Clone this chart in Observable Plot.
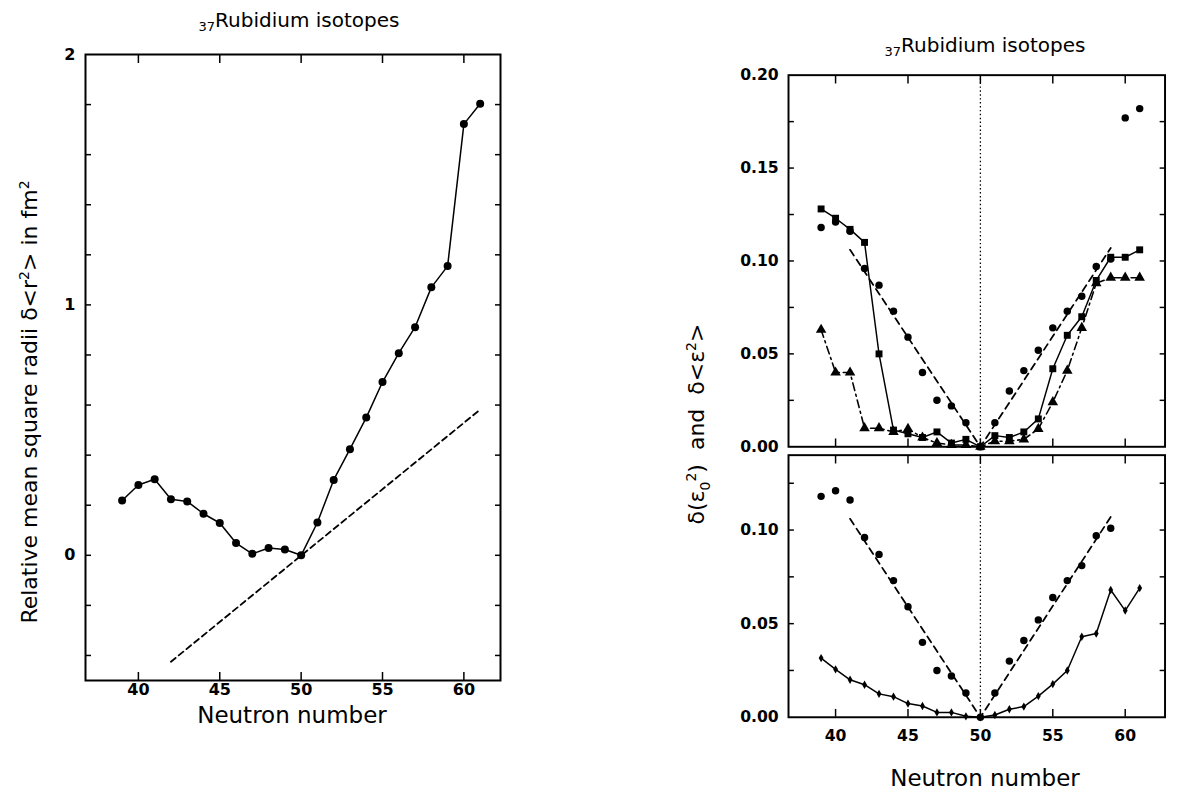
<!DOCTYPE html>
<html><head><meta charset="utf-8">
<script src="https://cdn.jsdelivr.net/npm/d3@7"></script>
<script src="https://cdn.jsdelivr.net/npm/@observablehq/plot@0.6"></script>
<style>
body{margin:0;background:#fff;}
#wrap{position:relative;width:1189px;height:795px;overflow:hidden;font-family:"DejaVu Sans",sans-serif;color:#000;background:#fff;}
.abs{position:absolute;line-height:1;white-space:nowrap;}
.title{font-size:20px;transform:translateX(-50%);}
.title sub{font-size:13px;vertical-align:-4px;}
.xlab{font-size:23px;transform:translateX(-50%);}
.ylab{font-size:22px;transform:translate(-50%,-50%) rotate(-90deg);}
.ylab sub,.ylab sup{font-size:14px;}
.plotbox{position:absolute;}
</style></head><body><div id="wrap"></div>
<script>
// ---------- data ----------
const neutrons = [39,40,41,42,43,44,45,46,47,48,49,50,51,52,53,54,55,56,57,58,59,60,61];
// left panel: relative mean square radii δ<r²> (fm²)
const radii = [0.219,0.281,0.304,0.224,0.215,0.166,0.129,0.049,0.006,0.029,0.023,0.000,0.131,0.301,0.424,0.550,0.692,0.807,0.911,1.070,1.155,1.722,1.803];
const radiiFitN = [42, 61];
const radiiFitY = [-0.425, 0.582];
// right panels
const circles = [0.118,0.121,0.116,0.096,0.087,0.073,0.059,0.040,0.025,0.022,0.013,0.000,0.013,0.030,0.041,0.052,0.064,0.073,0.081,0.097,0.101,0.177,0.182];
const squares = [0.128,0.123,0.117,0.110,0.050,0.009,0.007,0.005,0.008,0.002,0.004,0.000,0.006,0.005,0.008,0.015,0.042,0.060,0.070,0.0895,0.102,0.102,0.106];
const triangles = [0.063,0.040,0.040,0.010,0.010,0.008,0.0096,0.005,0.002,0.001,0.001,0.000,0.003,0.003,0.004,0.0096,0.024,0.041,0.064,0.088,0.091,0.091,0.091];
const diamonds = [0.0316,0.0256,0.020,0.0174,0.0125,0.011,0.0073,0.006,0.0026,0.0026,0.0005,0.000,0.0012,0.0043,0.0057,0.0113,0.0177,0.025,0.043,0.0447,0.068,0.057,0.069];
const vFitN = [41, 50, 59];
const vFitY = [0.106, 0.000, 0.107];
const closedShell = [50];
// ticks
const xTicks = [40,45,50,55,60];
const leftYMinor = [-0.4,-0.2,0,0.2,0.4,0.6,0.8,1.0,1.2,1.4,1.6,1.8];
const leftYLabels = [0,1,2];
const topYMinor = [0.025,0.05,0.075,0.1,0.125,0.15,0.175];
const topYLabels = [0,0.05,0.10,0.15,0.20];
const botYMinor = [0.025,0.05,0.075,0.1,0.125];
const botYLabels = [0,0.05,0.10];

// ---------- tables ----------
const rows = (ys) => neutrons.map((n,i)=>({n, v: ys[i]}));
const radiiRows = rows(radii);
const radiiFit = radiiFitN.map((n,i)=>({n, v: radiiFitY[i]}));
const vFit = vFitN.map((n,i)=>({n, v: vFitY[i]}));
const circRows = rows(circles), sqRows = rows(squares), triRows = rows(triangles), diaRows = rows(diamonds);

const tickFont = {fontSize: 16, fontWeight: "bold", fontFamily: "'DejaVu Sans',sans-serif"};
const baseStyle = {background: "transparent", overflow: "visible", color: "black"};
const blank = () => "";
const f2 = d3.format(".2f");

function frameAxes(ticksY, labelsY, fmtY, showX, xPad) {
  const m = [
    Plot.frame({strokeWidth: 2}),
    Plot.axisX({anchor: "bottom", ticks: xTicks, tickSize: -8, tickFormat: blank, label: null, strokeWidth: 1.5}),
    Plot.axisX({anchor: "top", ticks: xTicks, tickSize: -8, tickFormat: blank, label: null, strokeWidth: 1.5}),
    Plot.axisY({anchor: "left", ticks: ticksY, tickSize: -6, tickFormat: blank, label: null, strokeWidth: 1.5}),
    Plot.axisY({anchor: "right", ticks: ticksY, tickSize: -6, tickFormat: blank, label: null, strokeWidth: 1.5}),
    Plot.axisY({anchor: "left", ticks: labelsY, tickSize: 0, tickPadding: 10, tickFormat: fmtY, label: null, ...tickFont})
  ];
  if (showX) m.push(Plot.axisX({anchor: "bottom", ticks: xTicks, tickSize: 0, tickPadding: xPad, label: null, ...tickFont}));
  return m;
}

const wrap = document.getElementById("wrap");
function place(el, left, top) {
  const d = document.createElement("div");
  d.className = "plotbox"; d.style.left = left + "px"; d.style.top = top + "px";
  d.appendChild(el); wrap.appendChild(d);
}
function text(cls, html, left, top) {
  const d = document.createElement("div");
  d.className = "abs " + cls; d.innerHTML = html;
  d.style.left = left + "px"; d.style.top = top + "px";
  wrap.appendChild(d);
}

// ---------- left panel ----------
const leftPlot = Plot.plot({
  width: 520, height: 720, marginLeft: 85, marginTop: 54, marginRight: 20, marginBottom: 40,
  x: {domain: [36.75, 62.25]}, y: {domain: [-0.5, 2]},
  style: baseStyle,
  marks: [
    ...frameAxes(leftYMinor, leftYLabels, d3.format("d"), true, 3),
    Plot.line(radiiFit, {x: "n", y: "v", strokeDasharray: "6,4", strokeWidth: 1.8}),
    Plot.line(radiiRows, {x: "n", y: "v", strokeWidth: 1.5}),
    Plot.dot(radiiRows, {x: "n", y: "v", r: 4, fill: "black"})
  ]
});
place(leftPlot, 0, 0);

// ---------- right top panel ----------
const topPlot = Plot.plot({
  width: 500, height: 400, marginLeft: 90, marginTop: 15, marginRight: 25, marginBottom: 5,
  x: {domain: [36.75, 62.75]}, y: {domain: [0, 0.2]},
  style: baseStyle,
  marks: [
    ...frameAxes(topYMinor, topYLabels, f2, false, 0),
    Plot.ruleX(closedShell, {strokeDasharray: "1.5,2.5", strokeWidth: 1.3}),
    Plot.line(vFit, {x: "n", y: "v", strokeDasharray: "7,5", strokeWidth: 1.8}),
    Plot.line(triRows, {x: "n", y: "v", strokeDasharray: "8,4,2,4", strokeWidth: 1.6}),
    Plot.line(sqRows, {x: "n", y: "v", strokeWidth: 1.5}),
    Plot.dot(triRows, {x: "n", y: "v", symbol: "triangle", r: 4, fill: "black"}),
    Plot.dot(sqRows, {x: "n", y: "v", symbol: "square", r: 4, fill: "black"}),
    Plot.dot(circRows, {x: "n", y: "v", r: 3.8, fill: "black"})
  ]
});
place(topPlot, 700, 60);

// ---------- right bottom panel ----------
const botPlot = Plot.plot({
  width: 500, height: 318, marginLeft: 90, marginTop: 15, marginRight: 25, marginBottom: 35,
  x: {domain: [36.75, 62.75]}, y: {domain: [0, 0.14]},
  style: baseStyle,
  marks: [
    ...frameAxes(botYMinor, botYLabels, f2, true, 13),
    Plot.ruleX(closedShell, {strokeDasharray: "1.5,2.5", strokeWidth: 1.3}),
    Plot.line(vFit, {x: "n", y: "v", strokeDasharray: "7,5", strokeWidth: 1.8}),
    Plot.line(diaRows, {x: "n", y: "v", strokeWidth: 1.5}),
    Plot.dot(diaRows, {x: "n", y: "v", symbol: "diamond", r: 2.6, fill: "black"}),
    Plot.dot(circRows, {x: "n", y: "v", r: 3.8, fill: "black", filter: d => d.v <= 0.14})
  ]
});
place(botPlot, 700, 440);

// ---------- texts ----------
text("title", "<sub>37</sub>Rubidium isotopes", 299, 10);
text("title", "<sub>37</sub>Rubidium isotopes", 985, 35);
text("xlab", "Neutron number", 292, 704);
text("xlab", "Neutron number", 985, 767);
text("ylab", "Relative mean square radii δ&lt;r<sup>2</sup>&gt; in fm<sup>2</sup>", 29, 402);
text("ylab", "δ(ε<sub>0</sub><sup>2</sup>)&nbsp;&nbsp;and&nbsp;&nbsp;δ&lt;ε<sup>2</sup>&gt;", 698, 424);
</script>
</body></html>
